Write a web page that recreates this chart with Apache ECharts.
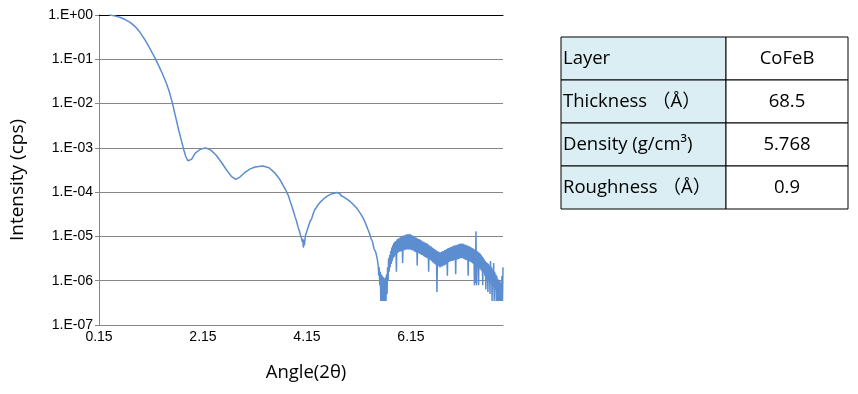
<!DOCTYPE html>
<html>
<head>
<meta charset="utf-8">
<script src="https://cdn.jsdelivr.net/npm/echarts@6/dist/echarts.min.js"></script>
<style>
html,body{margin:0;padding:0;background:#fff;}
#chart{width:858px;height:394px;}
</style>
</head>
<body>
<div id="chart"></div>
<script>
// ---- data ----
const xTickValues = [0.15, 2.15, 4.15, 6.15];
const yTickLabels = ['1.E+00','1.E-01','1.E-02','1.E-03','1.E-04','1.E-05','1.E-06','1.E-07'];
const xTitle = 'Angle(2θ)';
const yTitle = 'Intensity (cps)';
const tableRows = [
  ['Layer', 'CoFeB'],
  ['Thickness （Å）', '68.5'],
  ['Density (g/cm³)', '5.768'],
  ['Roughness （Å）', '0.9']
];

// [angle (2θ), intensity (cps, normalised)]
const scanSmooth = [
  [0.35,1.0],[0.45,0.955],[0.55,0.89],[0.65,0.79],[0.75,0.68],[0.85,0.54],[0.93,0.42],
  [1.00,0.316],[1.07,0.234],[1.15,0.158],[1.23,0.105],[1.30,0.071],[1.37,0.047],[1.44,0.030],
  [1.50,0.019],[1.56,0.0105],[1.62,0.0052],[1.68,0.0026],[1.74,0.00138],[1.78,0.00091],
  [1.82,0.00063],[1.86,0.00051],[1.89,0.00048],[1.93,0.00055],
  [2.00,0.00076],[2.10,0.00093],[2.20,0.001],[2.30,0.00089],[2.40,0.00069],[2.50,0.00048],
  [2.60,0.00032],[2.70,0.000224],[2.78,0.000195],[2.86,0.000219],[2.95,0.000275],
  [3.05,0.00033],[3.15,0.00037],[3.30,0.00039],[3.42,0.000355],[3.52,0.00028]
];
const scanFringe = [
  [3.62,2.0e-4],[3.66,1.66e-4],[3.70,1.35e-4],[3.74,1.12e-4],[3.77,9.5e-5],[3.80,7.9e-5],
  [3.83,6.0e-5],[3.86,4.8e-5],[3.89,3.7e-5],[3.92,2.8e-5],[3.95,2.2e-5],[3.98,1.6e-5],
  [4.00,1.38e-5],[4.02,1.12e-5],[4.04,9.5e-6],[4.06,7.6e-6],[4.07,8.9e-6],[4.08,5.6e-6],
  [4.09,8.3e-6],[4.10,6.3e-6],[4.12,1.05e-5],[4.14,1.12e-5],[4.16,1.45e-5],[4.18,1.58e-5],
  [4.21,2.2e-5],[4.24,2.5e-5],[4.27,3.3e-5],[4.30,4.0e-5],[4.33,4.5e-5],[4.36,5.1e-5],
  [4.39,5.5e-5],[4.42,6.2e-5],[4.45,6.5e-5],[4.48,7.2e-5],[4.51,7.4e-5],[4.54,8.1e-5],
  [4.57,8.1e-5],[4.60,8.9e-5],[4.63,8.5e-5],[4.66,9.3e-5],[4.69,8.9e-5],[4.72,9.8e-5],
  [4.75,8.9e-5],[4.78,9.3e-5],[4.81,8.3e-5],[4.84,8.7e-5],[4.87,7.6e-5],[4.90,7.8e-5],
  [4.93,6.8e-5],[4.96,6.9e-5],[4.99,6.0e-5],[5.02,6.0e-5],[5.05,5.1e-5],[5.08,5.0e-5],
  [5.11,4.3e-5],[5.14,4.0e-5],[5.17,3.4e-5],[5.20,3.0e-5],[5.23,2.6e-5],[5.26,2.2e-5],
  [5.29,1.8e-5],[5.32,1.45e-5],[5.35,1.2e-5],[5.38,9.1e-6],[5.41,7.6e-6],[5.44,5.2e-6],
  [5.47,4.5e-6],[5.50,3.2e-6]
];
const scanNoisy = [
  [5.52,2.2e-6],[5.53,1.3e-6],[5.54,2.0e-6],[5.55,7.9e-7],[5.56,1.6e-6],[5.57,3.5e-7],
  [5.58,1.4e-6],[5.59,3.5e-7],[5.60,1.3e-6],[5.61,3.5e-7],[5.62,1.2e-6],[5.63,3.5e-7],
  [5.64,1.1e-6],[5.65,3.5e-7],[5.66,1.2e-6],[5.67,3.5e-7],[5.68,1.4e-6],[5.69,5.0e-7],
  [5.70,2.0e-6],[5.71,1.0e-6],
  [5.72,3.2e-6],[5.73,1.6e-6],[5.74,3.8e-6],[5.75,2.0e-6],[5.76,4.7e-6],[5.77,2.4e-6],
  [5.78,5.6e-6],[5.79,2.8e-6],[5.80,6.3e-6],[5.81,3.2e-6],[5.82,7.1e-6],[5.83,3.5e-6],
  [5.84,7.6e-6],[5.85,3.8e-6],[5.86,7.9e-6],[5.87,1.6e-6],[5.88,8.5e-6],[5.89,4.2e-6],
  [5.90,8.9e-6],[5.91,4.4e-6],[5.92,9.1e-6],[5.93,4.5e-6],[5.94,9.5e-6],[5.95,4.6e-6],
  [5.96,1.0e-5],[5.97,4.7e-6],[5.98,1.0e-5],[5.99,2.5e-6],[6.00,1.05e-5],[6.01,4.8e-6],
  [6.02,1.05e-5],[6.03,5.0e-6],[6.04,1.07e-5],[6.05,5.0e-6],[6.06,1.1e-5],[6.07,5.0e-6],
  [6.08,1.12e-5],[6.09,5.2e-6],[6.10,1.1e-5],[6.11,5.0e-6],[6.12,1.15e-5],[6.13,5.2e-6],
  [6.14,1.1e-5],[6.15,5.0e-6],[6.16,1.07e-5],[6.17,4.8e-6],[6.18,1.05e-5],[6.19,5.0e-6],
  [6.20,1.0e-5],[6.21,4.6e-6],[6.22,1.0e-5],[6.23,4.5e-6],[6.24,9.5e-6],[6.25,4.4e-6],
  [6.26,9.3e-6],[6.27,2.2e-6],[6.28,8.9e-6],[6.29,4.2e-6],[6.30,8.7e-6],[6.31,4.2e-6],
  [6.32,8.5e-6],[6.33,4.0e-6],[6.34,8.3e-6],[6.35,3.8e-6],[6.36,7.9e-6],[6.37,3.8e-6],
  [6.38,7.6e-6],[6.39,3.6e-6],[6.40,7.6e-6],[6.41,3.5e-6],[6.42,7.2e-6],[6.43,3.4e-6],
  [6.44,7.1e-6],[6.45,3.3e-6],[6.46,6.9e-6],[6.47,3.2e-6],[6.48,6.6e-6],[6.49,1.6e-6],
  [6.50,6.3e-6],[6.51,3.0e-6],[6.52,6.0e-6],[6.53,2.9e-6],[6.54,5.9e-6],[6.55,2.75e-6],
  [6.56,5.6e-6],[6.57,2.6e-6],[6.58,5.4e-6],[6.59,2.5e-6],[6.60,5.2e-6],[6.61,2.4e-6],
  [6.62,5.0e-6],[6.63,2.3e-6],[6.64,4.8e-6],[6.65,5.6e-7],[6.66,4.6e-6],[6.67,2.2e-6],
  [6.68,4.5e-6],[6.69,2.1e-6],[6.70,4.4e-6],[6.71,2.0e-6],[6.72,4.4e-6],[6.73,2.1e-6],
  [6.74,4.5e-6],[6.75,2.1e-6],[6.76,4.6e-6],[6.77,2.2e-6],[6.78,4.7e-6],[6.79,2.2e-6],
  [6.80,4.9e-6],[6.81,2.3e-6],[6.82,5.0e-6],[6.83,2.4e-6],[6.84,5.2e-6],[6.85,1.3e-6],
  [6.86,5.4e-6],[6.87,2.6e-6],[6.88,5.5e-6],[6.89,2.7e-6],[6.90,5.6e-6],[6.91,2.75e-6],
  [6.92,5.8e-6],[6.93,2.8e-6],[6.94,5.9e-6],[6.95,2.8e-6],[6.96,6.0e-6],[6.97,2.9e-6],
  [6.98,6.2e-6],[6.99,2.95e-6],[7.00,6.3e-6],[7.01,1.4e-6],[7.02,6.3e-6],[7.03,3.0e-6],
  [7.04,6.5e-6],[7.05,3.0e-6],[7.06,6.6e-6],[7.07,3.1e-6],[7.08,6.8e-6],[7.09,3.2e-6],
  [7.10,6.8e-6],[7.11,3.2e-6],[7.12,6.9e-6],[7.13,3.2e-6],[7.14,6.8e-6],[7.15,3.2e-6],
  [7.16,6.8e-6],[7.17,3.1e-6],[7.18,6.6e-6],[7.19,3.0e-6],[7.20,6.5e-6],[7.21,2.95e-6],
  [7.22,6.3e-6],[7.23,2.9e-6],[7.24,6.2e-6],[7.25,1.3e-6],[7.26,6.0e-6],[7.27,2.75e-6],
  [7.28,5.9e-6],[7.29,2.7e-6],[7.30,5.8e-6],[7.31,2.6e-6],[7.32,5.5e-6],[7.33,2.5e-6],
  [7.34,5.4e-6],[7.35,2.4e-6],[7.36,5.2e-6],[7.37,7.9e-7],[7.38,5.0e-6],[7.39,8.9e-7],
  [7.40,1.3e-5],[7.41,7.9e-7],[7.42,4.7e-6],[7.43,2.1e-6],[7.44,4.5e-6],[7.45,7.9e-7],
  [7.46,4.3e-6],[7.47,1.9e-6],[7.48,4.1e-6],[7.49,1.8e-6],[7.50,3.8e-6],[7.51,1.66e-6],
  [7.52,3.5e-6],[7.53,7.9e-7],[7.54,3.3e-6],[7.55,1.5e-6],[7.56,3.0e-6],[7.57,1.3e-6],
  [7.58,2.8e-6],[7.59,6.3e-7],[7.60,2.6e-6],[7.61,1.1e-6],[7.62,2.5e-6],[7.63,5.6e-7],
  [7.64,2.4e-6],[7.65,1.0e-6],[7.66,2.2e-6],[7.67,5.0e-7],[7.68,2.8e-6],[7.69,8.9e-7],
  [7.70,2.0e-6],[7.71,3.5e-7],[7.72,1.8e-6],[7.73,7.1e-7],[7.74,2.5e-6],[7.75,3.5e-7],
  [7.76,1.6e-6],[7.77,6.3e-7],[7.78,1.4e-6],[7.79,3.5e-7],[7.80,1.3e-6],[7.81,3.5e-7],
  [7.82,1.1e-6],[7.83,3.5e-7],[7.84,1.0e-6],[7.85,3.5e-7],[7.86,1.0e-6],[7.87,3.5e-7],
  [7.88,8.9e-7],[7.89,3.5e-7],[7.90,1.3e-6],[7.91,3.5e-7],[7.92,2.0e-6]
];

// ---- layout ----
const GRID = {left: 99, top: 15, right: 355, bottom: 69};
const TBL = {x: 561, y: 37, w1: 165, w2: 122, rowH: 43};
const FONT = '"Open Sans","Noto Sans CJK SC",sans-serif';

const graphics = [];
graphics.push({
  type: 'text', x: 306, y: 373,
  style: {text: xTitle, font: '18.5px ' + FONT, fill: '#000', align: 'center', verticalAlign: 'middle'}
});
graphics.push({
  type: 'text', x: 18, y: 180, rotation: Math.PI / 2,
  style: {text: yTitle, font: '19px ' + FONT, fill: '#000', align: 'center', verticalAlign: 'middle'}
});
tableRows.forEach((row, i) => {
  const y = TBL.y + i * TBL.rowH;
  graphics.push({
    type: 'rect', shape: {x: TBL.x, y: y, width: TBL.w1, height: TBL.rowH},
    style: {fill: '#daeef3', stroke: '#000', lineWidth: 1}
  });
  graphics.push({
    type: 'rect', shape: {x: TBL.x + TBL.w1, y: y, width: TBL.w2, height: TBL.rowH},
    style: {fill: '#ffffff', stroke: '#000', lineWidth: 1}
  });
  graphics.push({
    type: 'text', x: TBL.x + 2, y: y + TBL.rowH / 2,
    style: {text: row[0], font: '18.5px ' + FONT, fill: '#000', align: 'left', verticalAlign: 'middle'}
  });
  graphics.push({
    type: 'text', x: TBL.x + TBL.w1 + TBL.w2 / 2, y: y + TBL.rowH / 2,
    style: {text: row[1], font: '18.5px ' + FONT, fill: '#000', align: 'center', verticalAlign: 'middle'}
  });
});

const chart = echarts.init(document.getElementById('chart'), null, {renderer: 'canvas'});
chart.setOption({
  animation: false,
  backgroundColor: '#fff',
  grid: GRID,
  xAxis: [{
    type: 'value', min: 0.15, max: 7.92, position: 'bottom',
    axisLine: {show: true, lineStyle: {color: '#868686', width: 1}},
    axisTick: {show: false},
    splitLine: {show: false},
    axisLabel: {
      customValues: xTickValues, margin: 5,
      color: '#000', fontSize: 14, fontFamily: '"Liberation Sans", Arial, sans-serif',
      formatter: v => v.toFixed(2)
    }
  }, {
    type: 'value', min: 0.15, max: 7.92, position: 'top',
    axisLine: {show: true, onZero: false, lineStyle: {color: '#000', width: 1}},
    axisTick: {show: false}, axisLabel: {show: false}, splitLine: {show: false}
  }],
  yAxis: {
    type: 'log', logBase: 10, min: 1e-7, max: 1, splitNumber: 7,
    axisLine: {show: true, lineStyle: {color: '#868686', width: 1}},
    axisTick: {show: true, inside: false, length: 4, lineStyle: {color: '#868686'}},
    splitLine: {show: true, lineStyle: {color: '#868686', width: 1}},
    axisLabel: {
      margin: 6, color: '#000', fontSize: 14, fontFamily: '"Liberation Sans", Arial, sans-serif',
      formatter: v => yTickLabels[-Math.round(Math.log10(v))]
    }
  },
  series: [{
    type: 'line', xAxisIndex: 0,
    data: scanSmooth.concat(scanFringe, scanNoisy),
    showSymbol: false, symbol: 'none', sampling: null,
    lineStyle: {color: '#5b8dd0', width: 1.5},
    silent: true
  }],
  graphic: graphics
});
</script>
</body>
</html>
